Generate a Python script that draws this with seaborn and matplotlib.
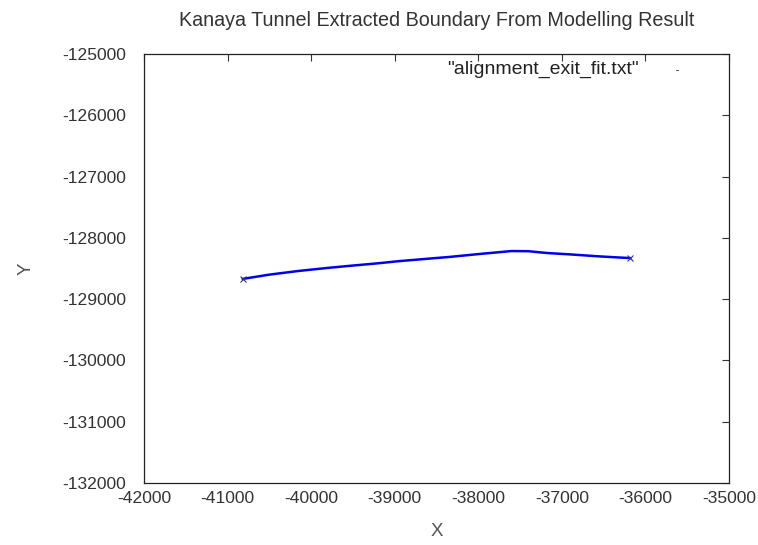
import matplotlib
matplotlib.use("Agg")
import matplotlib.pyplot as plt
import seaborn as sns
import pandas as pd

sns.set_theme(style="white")
plt.rcParams['font.family'] = ['Liberation Sans', 'DejaVu Sans']
plt.rcParams['axes.unicode_minus'] = False

x_vals = [-40820, -40500, -40150, -39800, -39550, -39200, -38950, -38600, -38350, -38000,
          -37800, -37600, -37400, -37180, -36900, -36580, -36350, -36180]
y_vals = [-128670, -128600, -128540, -128490, -128458, -128415, -128380, -128340, -128312, -128265,
          -128240, -128215, -128218, -128247, -128270, -128300, -128318, -128330]
series_name = '"alignment_exit_fit.txt"'

df = pd.DataFrame({"X": x_vals, "Y": y_vals, "s": series_name})

fig = plt.figure(figsize=(7.58, 5.45), dpi=100)
ax = fig.add_axes([144/758, 1 - 483/545, (729-144)/758, (483-54)/545])

sns.lineplot(data=df, x="X", y="Y", ax=ax, color="#0000ee", linewidth=1.8, sort=False, legend=False)
ax.plot([x_vals[0], x_vals[-1]], [y_vals[0], y_vals[-1]], linestyle="none", marker="x",
        markersize=4, color="#3030a0", markeredgewidth=0.8)

ax.set_xlim(-42000, -35000)
ax.set_ylim(-132000, -125000)
ax.set_xticks(range(-42000, -34999, 1000))
ax.set_yticks(range(-132000, -124999, 1000))
ax.tick_params(direction="in", length=5, width=0.8, top=True, right=True, labelsize=12.6,
               labelcolor="#333333", color="#333333")
ax.tick_params(axis="x", pad=6)
ax.tick_params(axis="y", pad=13)
for sp in ax.spines.values():
    sp.set_color("#222222")
    sp.set_linewidth(0.9)

ax.set_xlabel("X", fontsize=13.5, color="#555555", labelpad=12)
ax.set_ylabel("Y", fontsize=13.5, color="#555555", labelpad=20)
ax.set_title("Kanaya Tunnel Extracted Boundary From Modelling Result", fontsize=14.2,
             color="#333333", pad=20)

ax.text(0.845, 0.963, series_name, transform=ax.transAxes, ha="right", va="center",
        fontsize=14, color="#222222")
ax.plot([0.91, 0.912], [0.963, 0.963], transform=ax.transAxes, color="#555555", linewidth=0.8)

fig.savefig("out.png", dpi=100)
